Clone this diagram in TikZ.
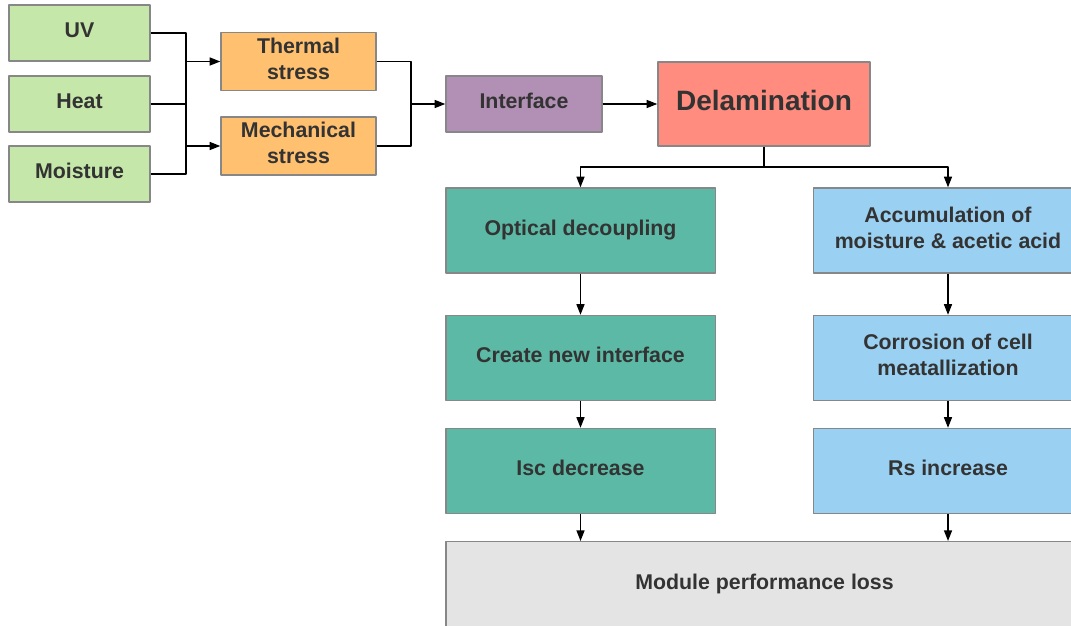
\documentclass[tikz,border=0pt]{standalone}
\usepackage{fontspec}
\setmainfont{Liberation Sans}
\usetikzlibrary{arrows.meta}
\definecolor{causeGreen}{RGB}{197,231,169}
\definecolor{stressOrange}{RGB}{255,192,112}
\definecolor{ifacePurple}{RGB}{178,143,180}
\definecolor{delamRed}{RGB}{255,140,126}
\definecolor{opticTeal}{RGB}{91,185,165}
\definecolor{corrBlue}{RGB}{154,208,241}
\definecolor{lossGrey}{RGB}{228,228,228}
\definecolor{edgeGrey}{RGB}{135,135,135}
\definecolor{inkDark}{RGB}{51,51,51}

\begin{document}
\begin{tikzpicture}[x=0.75pt,y=-0.75pt,line join=round,
  box/.style={draw=edgeGrey,line width=1pt,text=inkDark,align=center,inner sep=0pt,
    text depth=4.5pt,font=\bfseries\fontsize{16}{19.5}\selectfont},
  cause/.style={box,fill=causeGreen,minimum width=105.75pt,minimum height=42pt},
  stress/.style={box,fill=stressOrange,minimum width=116.25pt,minimum height=43.5pt},
  effect/.style={box,minimum width=202pt,minimum height=63.75pt},
  arr/.style={-{Triangle[length=8pt,width=6pt]}},
  wire/.style={black,line width=1.1pt}]

% fixed canvas, 1071 x 625 px
\clip (0,0) rectangle (1071,625);

% causes
\node[cause] (uv) at (79.5,33) {UV};
\node[cause] (heat) at (79.5,104) {Heat};
\node[cause] (moist) at (79.5,174) {Moisture};

% stresses
\node[stress] (thermal) at (298.5,61.5) {Thermal\\stress};
\node[stress] (mech) at (298.5,146) {Mechanical\\stress};

% interface and delamination
\node[box,fill=ifacePurple,minimum width=117pt,minimum height=42pt] (iface) at (524,104) {Interface};
\node[box,fill=delamRed,minimum width=159pt,minimum height=63pt,text depth=6pt,
  font=\bfseries\fontsize{21}{24}\selectfont] (delam) at (764,104) {Delamination};

% left branch (optical)
\node[effect,fill=opticTeal] (optic) at (580.5,230.5) {Optical decoupling};
\node[effect,fill=opticTeal] (newif) at (580.5,358) {Create new interface};
\node[effect,fill=opticTeal] (isc) at (580.5,471) {Isc decrease};

% right branch (corrosion), runs past the right edge
\node[effect,fill=corrBlue] (accum) at (948,230.5) {Accumulation of\\moisture \& acetic acid};
\node[effect,fill=corrBlue] (corr) at (948,358) {Corrosion of cell\\meatallization};
\node[effect,fill=corrBlue] (rs) at (948,471) {Rs increase};

% performance loss, runs past the bottom edge
\node[box,fill=lossGrey,minimum width=477.75pt,minimum height=70.5pt,anchor=north,
  text height=12pt,text depth=11pt] (loss) at (764.5,541) {Module performance loss};

% junction points
\coordinate (jin) at (186,104);
\coordinate (jst) at (411,104);
\coordinate (jdel) at (764,167);

% causes to stresses
\draw[wire] (uv.east) -| (jin);
\draw[wire] (moist.east) -| (jin);
\draw[wire] (heat.east) -- (jin);
\draw[wire,arr] (jin |- thermal.west) -- (thermal.west);
\draw[wire,arr] (jin |- mech.west) -- (mech.west);

% stresses to interface
\draw[wire] (thermal.east) -| (jst);
\draw[wire] (mech.east) -| (jst);
\draw[wire,arr] (jst) -- (iface.west);
\draw[wire,arr] (iface) -- (delam);

% split below delamination
\draw[wire] (delam.south) -- (jdel);
\draw[wire,arr] (jdel) -| (optic.north);
\draw[wire,arr] (jdel) -| (accum.north);

% chains
\draw[wire,arr] (optic) -- (newif);
\draw[wire,arr] (newif) -- (isc);
\draw[wire,arr] (isc.south) -- (isc.south |- loss.north);
\draw[wire,arr] (accum) -- (corr);
\draw[wire,arr] (corr) -- (rs);
\draw[wire,arr] (rs.south) -- (rs.south |- loss.north);

\end{tikzpicture}
\end{document}
